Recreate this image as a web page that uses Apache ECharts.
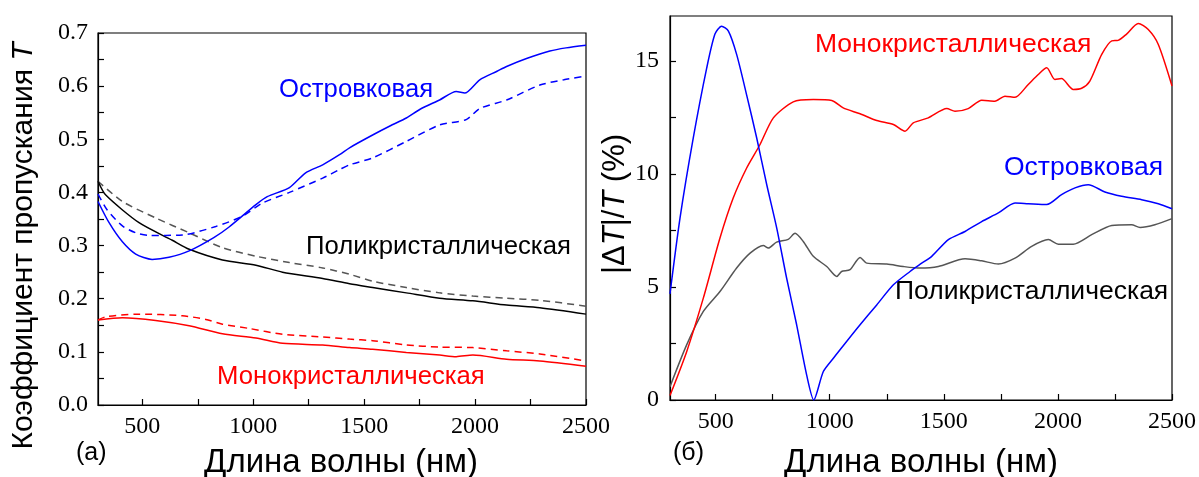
<!DOCTYPE html>
<html>
<head>
<meta charset="utf-8">
<script src="https://cdn.jsdelivr.net/npm/echarts@6/dist/echarts.min.js"></script>
<style>
html,body{margin:0;padding:0;background:#fff;}
#chart{width:1199px;height:477px;}
</style>
</head>
<body>
<div id="chart"></div>
<script>
// ---------- Panel (a): transmittance T ----------
const islSolidX = [300, 350, 410, 470, 544, 620, 711, 822, 891, 1012, 1063, 1163, 1236, 1313, 1389, 1434, 1538, 1616, 1690, 1754, 1840, 1915, 1953, 2021, 2099, 2142, 2232, 2337, 2410, 2500];
const islSolidY = [0.383, 0.343, 0.307, 0.284, 0.274, 0.278, 0.290, 0.315, 0.335, 0.377, 0.392, 0.409, 0.437, 0.452, 0.471, 0.484, 0.508, 0.525, 0.540, 0.557, 0.574, 0.590, 0.587, 0.612, 0.628, 0.637, 0.652, 0.666, 0.672, 0.677];

const islDashX = [300, 340, 410, 470, 530, 680, 831, 950, 1041, 1163, 1313, 1389, 1434, 1538, 1690, 1840, 1960, 2021, 2142, 2292, 2400, 2500];
const islDashY = [0.397, 0.368, 0.337, 0.324, 0.319, 0.320, 0.336, 0.355, 0.380, 0.400, 0.427, 0.443, 0.452, 0.465, 0.496, 0.527, 0.537, 0.558, 0.574, 0.602, 0.612, 0.619];

const polySolidX = [300, 335, 485, 635, 711, 861, 1012, 1132, 1313, 1434, 1538, 1690, 1840, 1990, 2142, 2292, 2500];
const polySolidY = [0.421, 0.395, 0.343, 0.310, 0.293, 0.273, 0.263, 0.250, 0.238, 0.228, 0.221, 0.211, 0.201, 0.196, 0.188, 0.183, 0.171];

const polyDashX = [300, 410, 560, 711, 861, 1012, 1163, 1313, 1434, 1538, 1690, 1840, 1990, 2142, 2292, 2500];
const polyDashY = [0.421, 0.383, 0.352, 0.324, 0.296, 0.280, 0.268, 0.258, 0.246, 0.233, 0.221, 0.211, 0.205, 0.201, 0.197, 0.186];

const monoSolidX = [300, 410, 560, 711, 861, 1012, 1132, 1313, 1434, 1538, 1690, 1840, 1915, 1990, 2142, 2292, 2500];
const monoSolidY = [0.160, 0.164, 0.159, 0.149, 0.134, 0.126, 0.116, 0.113, 0.108, 0.105, 0.099, 0.094, 0.091, 0.094, 0.086, 0.083, 0.073];

const monoDashX = [300, 335, 485, 680, 786, 861, 982, 1132, 1313, 1434, 1538, 1690, 1840, 1990, 2142, 2292, 2500];
const monoDashY = [0.160, 0.166, 0.171, 0.168, 0.161, 0.152, 0.144, 0.133, 0.128, 0.124, 0.121, 0.113, 0.109, 0.108, 0.102, 0.096, 0.083];

// ---------- Panel (б): |ΔT|/T (%) ----------
const islDiffX = [300, 344, 402, 461, 497, 526, 556, 592, 636, 680, 724, 768, 811, 855, 899, 930, 972, 1016, 1074, 1133, 1206, 1279, 1352, 1395, 1447, 1520, 1593, 1666, 1739, 1812, 1870, 1951, 2016, 2075, 2133, 2206, 2279, 2367, 2440, 2500];
const islDiffY = [4.7, 8.06, 11.6, 14.7, 16.2, 16.55, 16.33, 15.3, 13.5, 11.6, 9.53, 7.6, 5.4, 3.33, 1.1, 0.0, 1.26, 1.85, 2.59, 3.33, 4.21, 5.1, 5.69, 6.0, 6.36, 7.1, 7.46, 7.9, 8.28, 8.72, 8.69, 8.65, 9.09, 9.39, 9.53, 9.21, 9.02, 8.87, 8.69, 8.47];

const monoDiffX = [300, 373, 446, 519, 577, 636, 694, 753, 840, 928, 1009, 1059, 1133, 1206, 1279, 1330, 1366, 1432, 1513, 1549, 1607, 1666, 1724, 1768, 1812, 1870, 1914, 1951, 1987, 2016, 2067, 2104, 2140, 2192, 2236, 2264, 2301, 2352, 2396, 2440, 2500];
const monoDiffY = [0.2, 2.14, 4.51, 7.17, 8.94, 10.27, 11.3, 12.49, 13.2, 13.3, 13.26, 12.93, 12.67, 12.37, 12.2, 11.9, 12.27, 12.49, 12.9, 12.78, 12.9, 13.27, 13.23, 13.45, 13.4, 13.97, 14.41, 14.71, 14.19, 14.23, 13.75, 13.8, 14.12, 15.3, 15.9, 15.92, 16.2, 16.67, 16.4, 15.74, 13.9];

const polyDiffX = [300, 373, 446, 519, 592, 651, 709, 731, 767, 818, 848, 884, 928, 987, 1031, 1052, 1089, 1133, 1162, 1250, 1322, 1395, 1476, 1593, 1666, 1739, 1812, 1885, 1958, 2002, 2067, 2148, 2236, 2323, 2360, 2425, 2500];
const polyDiffY = [0.59, 2.44, 3.92, 4.8, 5.84, 6.5, 6.84, 6.73, 6.99, 7.11, 7.38, 7.02, 6.36, 5.91, 5.47, 5.69, 5.77, 6.31, 6.06, 6.02, 5.91, 5.84, 5.91, 6.25, 6.16, 6.02, 6.28, 6.8, 7.1, 6.9, 6.9, 7.32, 7.73, 7.76, 7.64, 7.76, 8.03];

// ---------- Axis ticks / labels ----------
const xMajorTicks = [500, 1000, 1500, 2000, 2500];
const xAllTicks = [500, 750, 1000, 1250, 1500, 1750, 2000, 2250, 2500];
const labelAnnotations = {
  island: 'Островковая',
  poly: 'Поликристаллическая',
  mono: 'Монокристаллическая'
};

const zip = (xs, ys) => xs.map((x, i) => [x, ys[i]]);

const SERIF = '"Liberation Serif","Times New Roman",serif';
const SANS = '"Liberation Sans",Arial,sans-serif';
const BLUE = '#0000ff', RED = '#ff0000', BLACK = '#000000', GRAY = '#555555';

function xAxisCfg(gridIndex) {
  return {
    type: 'value', gridIndex: gridIndex, min: 300, max: 2500,
    axisLine: { show: true, lineStyle: { color: '#000', width: 1.2 } },
    axisTick: { show: true, inside: true, length: 6, customValues: xAllTicks, lineStyle: { color: '#000', width: 1.2 } },
    axisLabel: { customValues: xMajorTicks, margin: 10, fontFamily: SERIF, fontSize: 24, color: '#000', formatter: v => String(v) },
    splitLine: { show: false }
  };
}

const lineSeries = (name, xi, yi, data, color, dashed) => ({
  name: name, type: 'line', xAxisIndex: xi, yAxisIndex: yi,
  data: data, showSymbol: false, smooth: 0.25, silent: true,
  lineStyle: { color: color, width: 1.5, type: dashed ? [7, 5] : 'solid' },
  z: 3
});

const chart = echarts.init(document.getElementById('chart'), null, { renderer: 'canvas' });

const option = {
  animation: false,
  backgroundColor: '#fff',
  grid: [
    { left: 98, top: 33, width: 488, height: 372, show: true, borderColor: '#000', borderWidth: 1.2, backgroundColor: 'transparent' },
    { left: 670, top: 16, width: 502, height: 384, show: true, borderColor: '#000', borderWidth: 1.2, backgroundColor: 'transparent' }
  ],
  xAxis: [xAxisCfg(0), xAxisCfg(1)],
  yAxis: [
    {
      type: 'value', gridIndex: 0, min: 0, max: 0.7, interval: 0.05,
      axisLine: { show: true, lineStyle: { color: '#000', width: 1.2 } },
      axisTick: { show: true, inside: true, length: 6, lineStyle: { color: '#000', width: 1.2 } },
      axisLabel: {
        margin: 10, fontFamily: SERIF, fontSize: 24, color: '#000',
        formatter: v => (Math.abs(v * 10 - Math.round(v * 10)) < 1e-6 ? v.toFixed(1) : '')
      },
      splitLine: { show: false }
    },
    {
      type: 'value', gridIndex: 1, min: 0, max: 17, interval: 2.5,
      axisLine: { show: true, lineStyle: { color: '#000', width: 1.2 } },
      axisTick: { show: true, inside: true, length: 6, lineStyle: { color: '#000', width: 1.2 } },
      axisLabel: {
        margin: 11, fontFamily: SERIF, fontSize: 24, color: '#000', showMaxLabel: false,
        formatter: v => (Math.abs(v / 5 - Math.round(v / 5)) < 1e-6 ? String(v) : '')
      },
      splitLine: { show: false }
    }
  ],
  series: [
    lineSeries('mono-dash', 0, 0, zip(monoDashX, monoDashY), RED, true),
    lineSeries('mono', 0, 0, zip(monoSolidX, monoSolidY), RED, false),
    lineSeries('poly-dash', 0, 0, zip(polyDashX, polyDashY), GRAY, true),
    lineSeries('poly', 0, 0, zip(polySolidX, polySolidY), BLACK, false),
    lineSeries('isl-dash', 0, 0, zip(islDashX, islDashY), BLUE, true),
    lineSeries('isl', 0, 0, zip(islSolidX, islSolidY), BLUE, false),
    lineSeries('poly-diff', 1, 1, zip(polyDiffX, polyDiffY), GRAY, false),
    lineSeries('mono-diff', 1, 1, zip(monoDiffX, monoDiffY), RED, false),
    lineSeries('isl-diff', 1, 1, zip(islDiffX, islDiffY), BLUE, false)
  ],
  graphic: [
    // annotations panel (a)
    { type: 'text', left: 279, top: 77, style: { text: labelAnnotations.island, font: '25.7px ' + SANS, fill: BLUE } },
    { type: 'text', left: 306, top: 234, style: { text: labelAnnotations.poly, font: '25.7px ' + SANS, fill: BLACK } },
    { type: 'text', left: 217, top: 364, style: { text: labelAnnotations.mono, font: '25.7px ' + SANS, fill: RED } },
    // annotations panel (б)
    { type: 'text', left: 815, top: 31, style: { text: labelAnnotations.mono, font: '26.5px ' + SANS, fill: RED } },
    { type: 'text', left: 1004, top: 154, style: { text: labelAnnotations.island, font: '26.5px ' + SANS, fill: BLUE } },
    { type: 'text', left: 895, top: 278, style: { text: labelAnnotations.poly, font: '26.5px ' + SANS, fill: BLACK } },
    // panel letters
    { type: 'text', left: 76, top: 441, style: { text: '(a)', font: '25px ' + SANS, fill: '#000' } },
    { type: 'text', left: 673, top: 441, style: { text: '(б)', font: '25px ' + SANS, fill: '#000' } },
    // x titles
    { type: 'text', x: 341, y: 446, style: { text: 'Длина волны (нм)', font: '33px ' + SANS, fill: '#000', align: 'center', verticalAlign: 'top' } },
    { type: 'text', x: 921, y: 446, style: { text: 'Длина волны (нм)', font: '33px ' + SANS, fill: '#000', align: 'center', verticalAlign: 'top' } },
    // y titles
    {
      type: 'text', x: 24, y: 246, rotation: Math.PI / 2,
      style: {
        text: 'Коэффициент пропускания {i|T}', font: '30px ' + SANS, fill: '#000',
        align: 'center', verticalAlign: 'middle',
        rich: { i: { fontStyle: 'italic', fontFamily: SANS, fontSize: 30 } }
      }
    },
    {
      type: 'text', x: 615, y: 204, rotation: Math.PI / 2,
      style: {
        text: '|Δ{i|T}|/{i|T} (%)', font: '31px ' + SANS, fill: '#000',
        align: 'center', verticalAlign: 'middle',
        rich: { i: { fontStyle: 'italic', fontFamily: SANS, fontSize: 31 } }
      }
    }
  ]
};

chart.setOption(option);
</script>
</body>
</html>
